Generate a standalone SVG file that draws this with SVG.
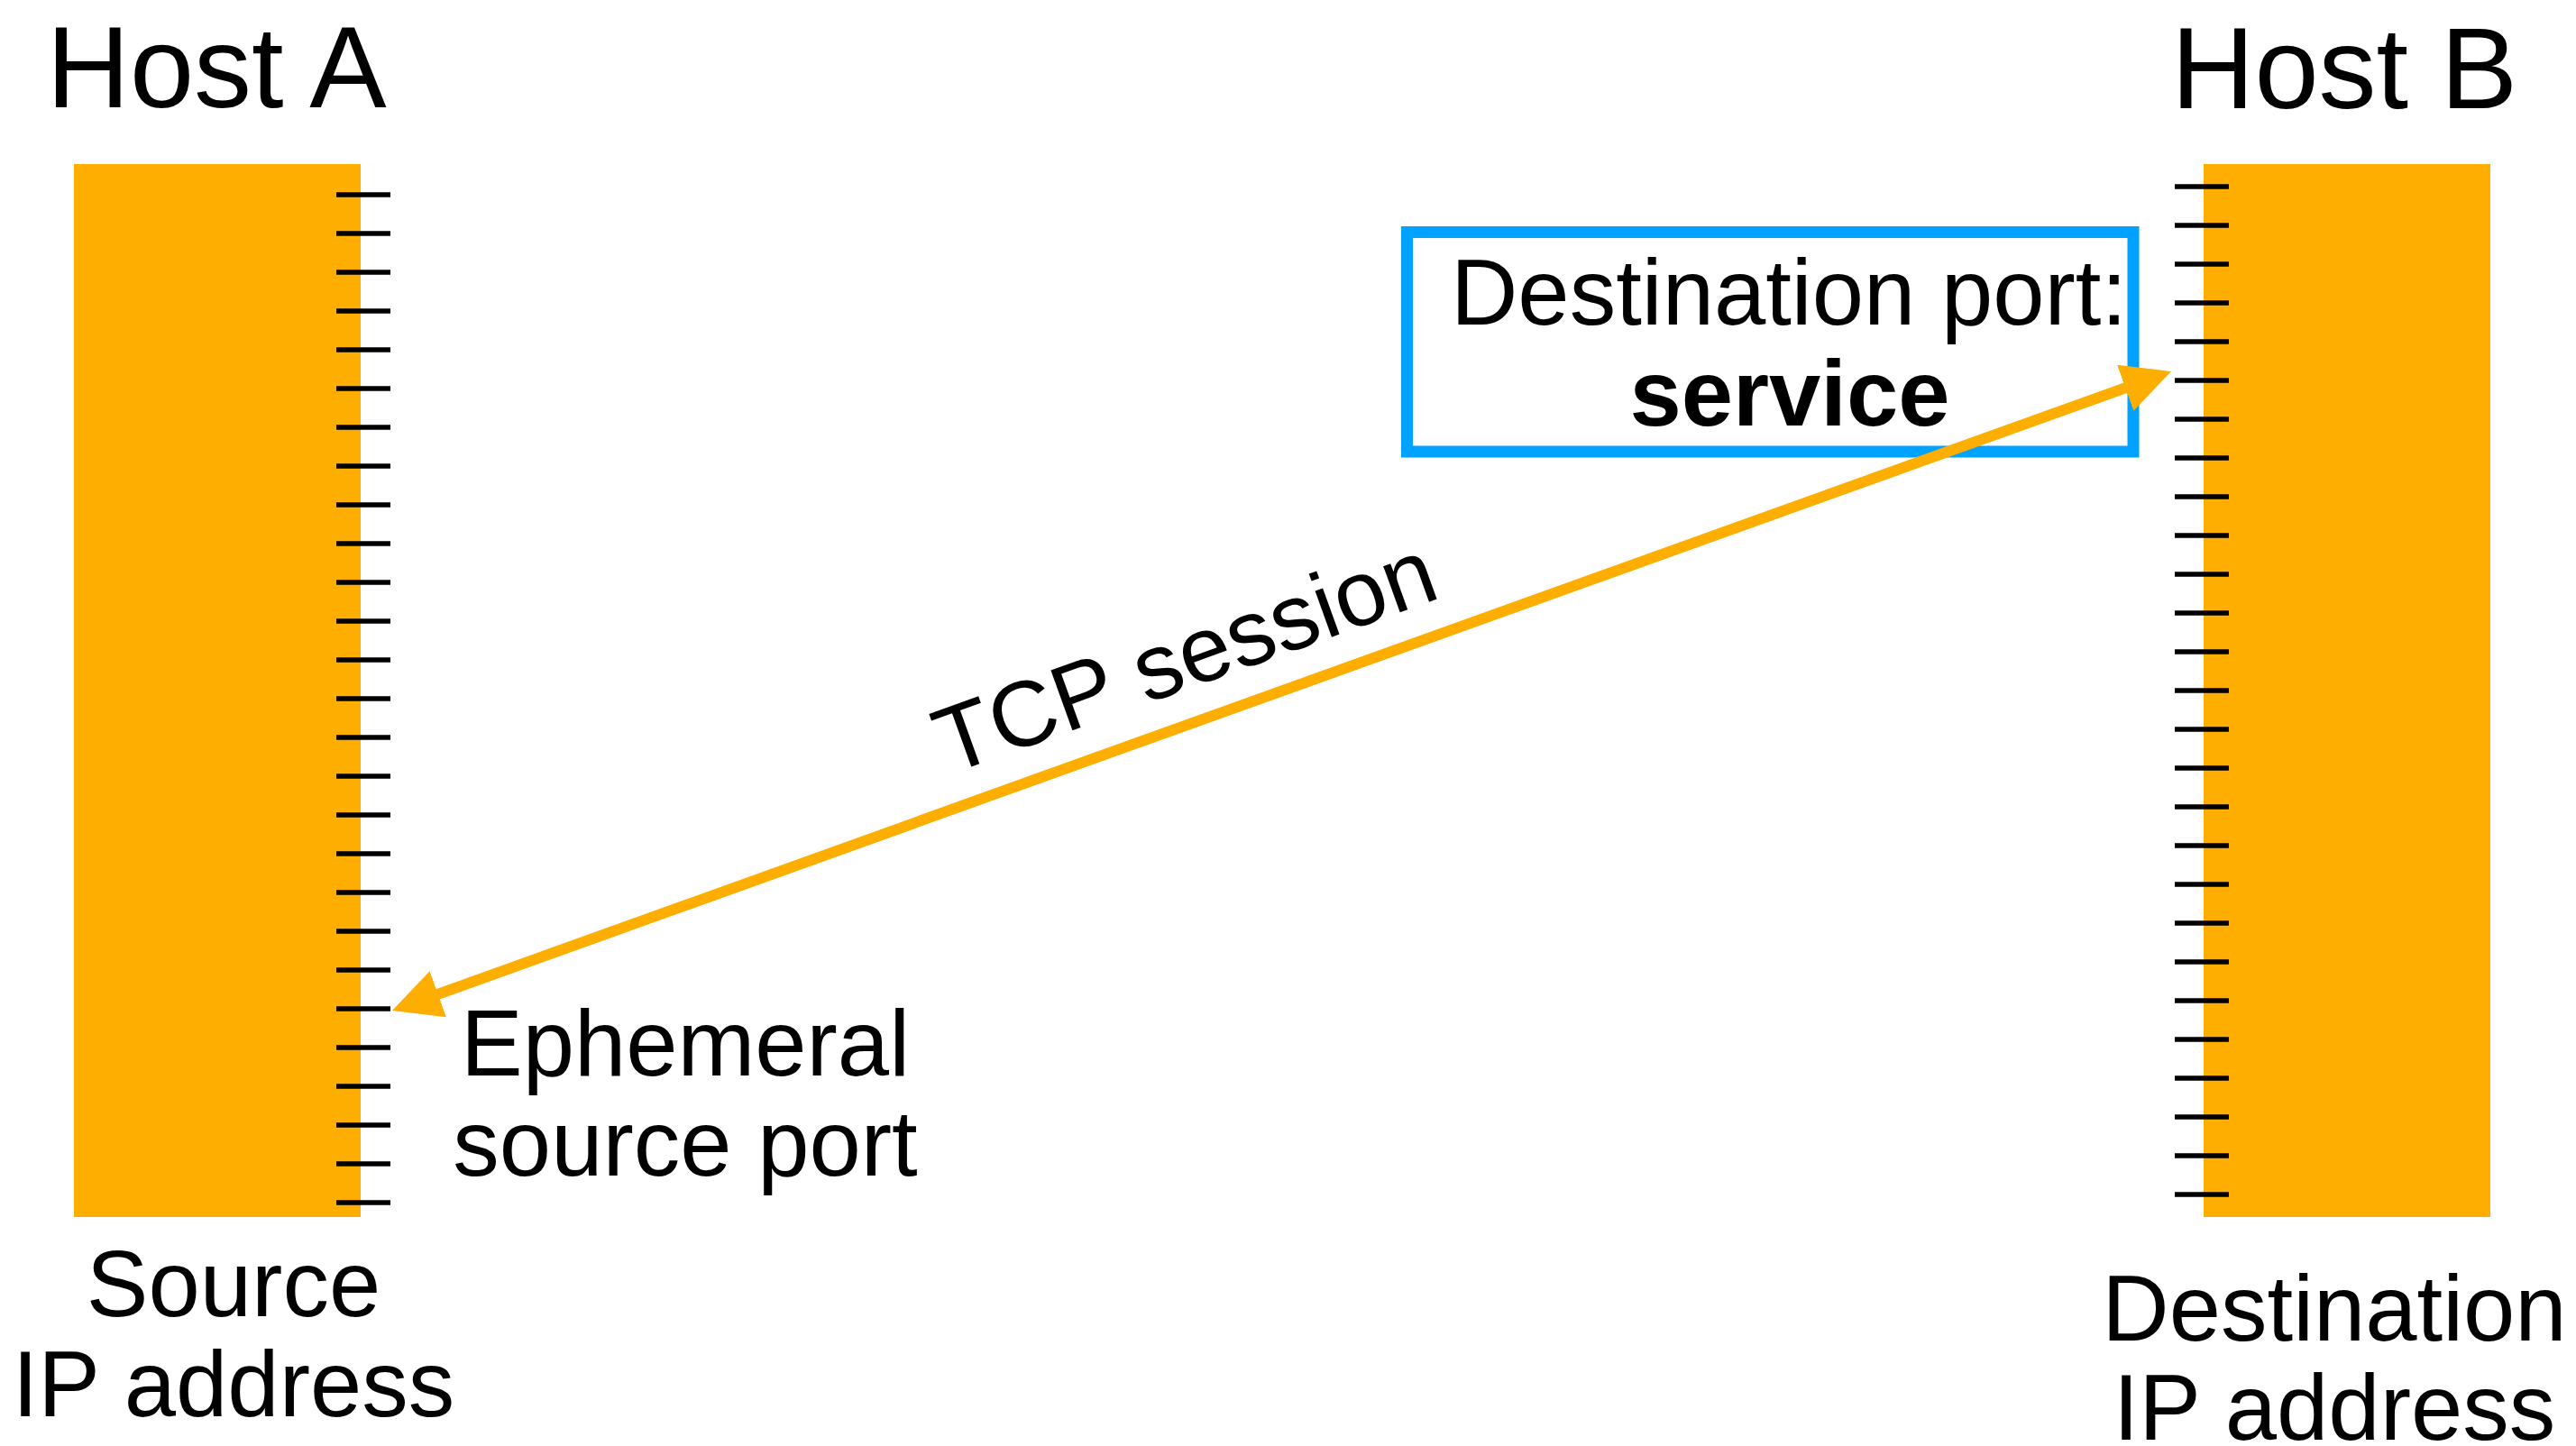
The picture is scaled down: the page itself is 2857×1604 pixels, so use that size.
<svg xmlns="http://www.w3.org/2000/svg" width="2857" height="1604" viewBox="0 0 2857 1604">
  <style>
    .t { font-family: "Liberation Sans", Arial, Helvetica, sans-serif; fill: #000; }
    .title { font-size: 128px; }
    .lbl { font-size: 103px; }
    .bold { font-weight: bold; }
    .bar { fill: #FDAE00; }
    .tick { stroke: #000; stroke-width: 5.5; }
    .conn { stroke: #FDAE00; stroke-width: 12; fill: none; }
    .box { fill: #fff; stroke: #00A2FF; stroke-width: 13; }
  </style>
  <defs>
    <marker id="ah" markerUnits="userSpaceOnUse" viewBox="0 0 54 54" markerWidth="54" markerHeight="54" refX="24" refY="27" orient="auto-start-reverse">
      <path d="M0,0 L54,27 L0,54 Z" fill="#FDAE00"/>
    </marker>
    <g id="ticks27">
      <line x1="0" y1="0" x2="60" y2="0"/><line x1="0" y1="43" x2="60" y2="43"/><line x1="0" y1="86" x2="60" y2="86"/>
      <line x1="0" y1="129" x2="60" y2="129"/><line x1="0" y1="172" x2="60" y2="172"/><line x1="0" y1="215" x2="60" y2="215"/>
      <line x1="0" y1="258" x2="60" y2="258"/><line x1="0" y1="301" x2="60" y2="301"/><line x1="0" y1="344" x2="60" y2="344"/>
      <line x1="0" y1="387" x2="60" y2="387"/><line x1="0" y1="430" x2="60" y2="430"/><line x1="0" y1="473" x2="60" y2="473"/>
      <line x1="0" y1="516" x2="60" y2="516"/><line x1="0" y1="559" x2="60" y2="559"/><line x1="0" y1="602" x2="60" y2="602"/>
      <line x1="0" y1="645" x2="60" y2="645"/><line x1="0" y1="688" x2="60" y2="688"/><line x1="0" y1="731" x2="60" y2="731"/>
      <line x1="0" y1="774" x2="60" y2="774"/><line x1="0" y1="817" x2="60" y2="817"/><line x1="0" y1="860" x2="60" y2="860"/>
      <line x1="0" y1="903" x2="60" y2="903"/><line x1="0" y1="946" x2="60" y2="946"/><line x1="0" y1="989" x2="60" y2="989"/>
      <line x1="0" y1="1032" x2="60" y2="1032"/><line x1="0" y1="1075" x2="60" y2="1075"/><line x1="0" y1="1118" x2="60" y2="1118"/>
    </g>
  </defs>

  <rect width="2857" height="1604" fill="#fff"/>

  <g id="hostA">
    <text class="t title" x="240" y="119" text-anchor="middle">Host A</text>
    <rect class="bar" x="82" y="182" width="318" height="1168"/>
    <use href="#ticks27" class="tick" x="373" y="216"/>
    <text class="t lbl" x="259" y="1460" text-anchor="middle">Source</text>
    <text class="t lbl" x="259" y="1571" text-anchor="middle">IP address</text>
  </g>

  <g id="hostB">
    <text class="t title" x="2600" y="120" text-anchor="middle">Host B</text>
    <rect class="bar" x="2444" y="182" width="318" height="1168"/>
    <use href="#ticks27" class="tick" x="2412" y="207"/>
    <text class="t lbl" x="2589" y="1487" text-anchor="middle">Destination</text>
    <text class="t lbl" x="2589" y="1597" text-anchor="middle">IP address</text>
  </g>

  <g id="dest-port">
    <rect class="box" x="1560.5" y="257.5" width="805.5" height="243.5"/>
    <text class="t lbl" x="1984" y="360" text-anchor="middle">Destination port:</text>
    <text class="t lbl bold" x="1985" y="472" text-anchor="middle">service</text>
  </g>

  <g id="ephemeral-label">
    <text class="t lbl" x="760" y="1193" text-anchor="middle">Ephemeral</text>
    <text class="t lbl" x="760" y="1304" text-anchor="middle">source port</text>
  </g>

  <g id="connectors">
    <line class="conn" x1="463.2" y1="1110.9" x2="2379.8" y2="422.1" marker-start="url(#ah)" marker-end="url(#ah)"/>
    <text class="t lbl" x="1326" y="761" text-anchor="middle" transform="rotate(-19.8 1326 761)">TCP session</text>
  </g>
</svg>
